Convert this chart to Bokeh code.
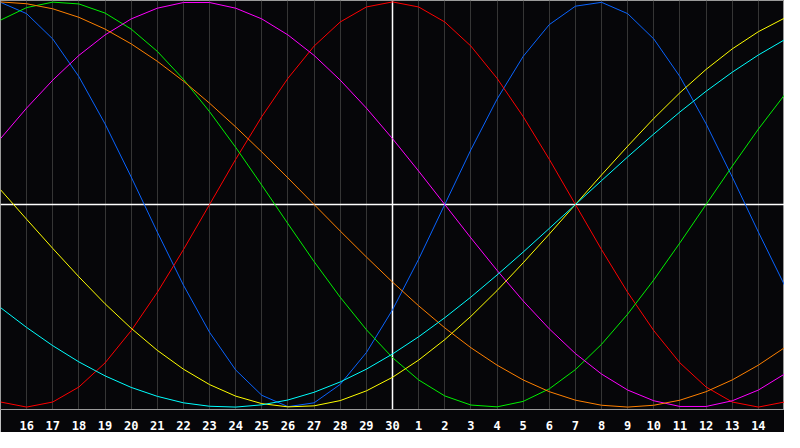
from bokeh.plotting import figure
from bokeh.models import Range1d, FixedTicker, Span, ColumnDataSource
from bokeh.embed import file_html
from bokeh.resources import INLINE

# Day of month for each column of the chart (index 0 .. 30)
day_of_month = [15, 16, 17, 18, 19, 20, 21, 22, 23, 24, 25, 26, 27, 28, 29, 30,
                1, 2, 3, 4, 5, 6, 7, 8, 9, 10, 11, 12, 13, 14, 15]
x_index = list(range(31))
today_index = 15
tick_index = list(range(1, 30))

# Biorhythm values read per day (-1 .. 1)
physical = [0.998, 0.942, 0.817, 0.631, 0.398, 0.136, -0.136, -0.398, -0.631, -0.817,
            -0.942, -0.998, -0.979, -0.888, -0.731, -0.520, -0.270, 0.0, 0.270, 0.520,
            0.731, 0.888, 0.979, 0.998, 0.942, 0.817, 0.631, 0.398, 0.136, -0.136, -0.398]
emotional = [-0.975, -1.0, -0.975, -0.901, -0.782, -0.623, -0.434, -0.223, 0.0, 0.223,
             0.434, 0.623, 0.782, 0.901, 0.975, 1.0, 0.975, 0.901, 0.782, 0.623,
             0.434, 0.223, 0.0, -0.223, -0.434, -0.623, -0.782, -0.901, -0.975, -1.0, -0.975]
intellectual = [0.910, 0.972, 0.999, 0.990, 0.945, 0.866, 0.756, 0.618, 0.458, 0.282,
                0.095, -0.095, -0.282, -0.458, -0.618, -0.756, -0.866, -0.945, -0.990, -0.999,
                -0.972, -0.910, -0.815, -0.690, -0.541, -0.372, -0.189, 0.0, 0.189, 0.372, 0.541]
intuitive = [0.325, 0.476, 0.614, 0.736, 0.837, 0.916, 0.969, 0.997, 0.997, 0.969,
             0.916, 0.837, 0.736, 0.614, 0.476, 0.325, 0.165, 0.0, -0.165, -0.325,
             -0.476, -0.614, -0.736, -0.837, -0.916, -0.969, -0.997, -0.997, -0.969, -0.916, -0.837]
aesthetic = [0.073, -0.073, -0.217, -0.357, -0.490, -0.611, -0.720, -0.813, -0.889, -0.946,
             -0.983, -0.999, -0.994, -0.968, -0.920, -0.853, -0.768, -0.667, -0.552, -0.425,
             -0.288, -0.146, 0.0, 0.146, 0.288, 0.425, 0.552, 0.667, 0.768, 0.853, 0.920]
awareness = [1.0, 0.991, 0.966, 0.924, 0.866, 0.793, 0.707, 0.609, 0.5, 0.383,
             0.259, 0.131, 0.0, -0.131, -0.259, -0.383, -0.5, -0.609, -0.707, -0.793,
             -0.866, -0.924, -0.966, -0.991, -1.0, -0.991, -0.966, -0.924, -0.866, -0.793, -0.707]
spiritual = [-0.509, -0.607, -0.697, -0.777, -0.846, -0.903, -0.947, -0.979, -0.996, -1.0,
             -0.989, -0.965, -0.927, -0.876, -0.813, -0.738, -0.653, -0.559, -0.457, -0.348,
             -0.235, -0.118, 0.0, 0.118, 0.235, 0.348, 0.457, 0.559, 0.653, 0.738, 0.813]

series_names = ["physical", "emotional", "intellectual", "intuitive",
                "aesthetic", "awareness", "spiritual"]
series_values = [physical, emotional, intellectual, intuitive,
                 aesthetic, awareness, spiritual]
series_colors = ["#0a64ff", "#ff0000", "#00f000", "#ff00ff",
                 "#ffff00", "#ff8000", "#00ffff"]

BG = "#060609"

p = figure(width=784, height=432,
           x_range=Range1d(0, 30), y_range=Range1d(-1.012, 1.007),
           output_backend="svg", toolbar_location=None,
           y_axis_location=None,
           min_border_left=0, min_border_right=0, min_border_top=0, min_border_bottom=21)

p.background_fill_color = BG
p.border_fill_color = BG
p.outline_line_color = "#9a9a9a"
p.outline_line_width = 1

p.ygrid.visible = False
p.xgrid.ticker = FixedTicker(ticks=tick_index)
p.xgrid.grid_line_color = "#353535"
p.xgrid.grid_line_width = 1

ax = p.xaxis[0]
ax.ticker = FixedTicker(ticks=tick_index)
ax.major_label_overrides = {i: str(day_of_month[i]) for i in tick_index}
ax.axis_line_color = "#9a9a9a"
ax.axis_line_width = 1
ax.major_tick_line_color = None
ax.minor_tick_line_color = None
ax.major_label_standoff = 5
ax.major_label_text_color = "white"
ax.major_label_text_font = "DejaVu Sans Mono"
ax.major_label_text_font_style = "bold"
ax.major_label_text_font_size = "12px"

p.add_layout(Span(location=today_index, dimension="height",
                  line_color="white", line_width=1.5, level="underlay"))
p.add_layout(Span(location=0, dimension="width",
                  line_color="white", line_width=1.5, level="underlay"))

for name, vals, col in zip(series_names, series_values, series_colors):
    src = ColumnDataSource(data=dict(x=x_index, y=vals))
    p.line("x", "y", source=src, line_color=col, line_width=1, name=name)

open("out.html", "w").write(file_html(p, INLINE))
